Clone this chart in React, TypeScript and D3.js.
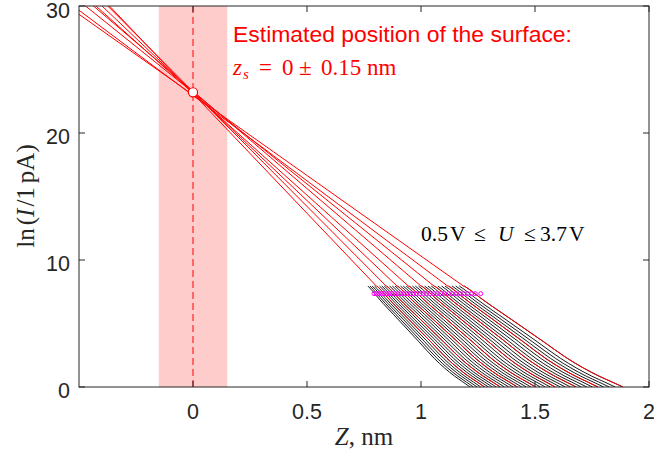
import React from "react";
import * as d3 from "d3";

// ---- data ----
const xTicks = [0, 0.5, 1, 1.5, 2];
const yTicks = [0, 10, 20, 30];
const xTickLabels = ["0", "0.5", "1", "1.5", "2"];
const yTickLabels = ["0", "10", "20", "30"];

const voltages = [
  0.5, 0.6, 0.7, 0.8, 0.9, 1.0, 1.1, 1.2, 1.3, 1.4, 1.5, 1.6, 1.7, 1.8, 1.9, 2.0,
  2.1, 2.2, 2.3, 2.4, 2.5, 2.6, 2.7, 2.8, 2.9, 3.0, 3.1, 3.2, 3.3, 3.4, 3.5, 3.6, 3.7,
];
// z where each I(z) curve starts (at the set-point current) and where it reaches ln I = 0
const zStart = [
  0.767, 0.776, 0.786, 0.796, 0.807, 0.818, 0.828, 0.839, 0.85, 0.862, 0.874, 0.886,
  0.898, 0.91, 0.922, 0.935, 0.948, 0.962, 0.975, 0.989, 1.003, 1.016, 1.03, 1.045,
  1.06, 1.074, 1.09, 1.105, 1.121, 1.136, 1.152, 1.168, 1.19,
];
const zEnd = [
  1.215, 1.23, 1.246, 1.262, 1.279, 1.296, 1.313, 1.33, 1.348, 1.366, 1.385, 1.404,
  1.423, 1.442, 1.462, 1.482, 1.503, 1.524, 1.545, 1.567, 1.589, 1.611, 1.633, 1.656,
  1.68, 1.703, 1.727, 1.752, 1.776, 1.801, 1.826, 1.852, 1.886,
];
// common shape of a curve: fraction of the way from zStart to zEnd vs ln I
const profileFrac = [0, 0.03, 0.1, 0.3, 0.5, 0.65, 0.75, 0.85, 0.93, 1];
const profileLnI = [7.95, 7.7, 7.03, 5.29, 3.56, 2.25, 1.5, 0.85, 0.4, 0];
// start points of the fits (magenta markers)
const markerZ = [
  0.794, 0.804, 0.815, 0.826, 0.838, 0.85, 0.861, 0.873, 0.886, 0.899, 0.912, 0.925,
  0.939, 0.952, 0.966, 0.98, 0.995, 1.01, 1.025, 1.04, 1.056, 1.071, 1.087, 1.103,
  1.12, 1.136, 1.153, 1.17, 1.187, 1.204, 1.221, 1.238, 1.262,
];
const markerLnI = 7.35;
// highlighted curves and their linear fits
const redIdx = [4, 8, 12, 16, 20, 24, 28, 32];
const fitIntercept = [23.1, 23.25, 23.2, 23.15, 23.3, 23.2, 22.95, 23.0];
const fitSlope = [18.84, 18.06, 17.04, 16.09, 15.35, 14.43, 13.43, 12.69];
const fitEndLnI = 7.9;
// estimated surface position
const zSurface = 0;
const zSurfaceErr = 0.15;
const lnISurface = 23.2;

const W = 654;
const H = 455;
const L = 79, R = 649, T = 6, B = 387;
const axisColor = "#262626";

export default function App() {
  const x = d3.scaleLinear().domain([-0.5, 2]).range([L, R]);
  const y = d3.scaleLinear().domain([0, 30]).range([B, T]);
  const line = d3
    .line<[number, number]>()
    .x((d) => x(d[0]))
    .y((d) => y(d[1]))
    .curve(d3.curveMonotoneX);

  const curvePts = (i: number): [number, number][] =>
    profileFrac.map((f, j) => [zStart[i] + f * (zEnd[i] - zStart[i]), profileLnI[j]]);

  const sans = "'Liberation Sans', Arial, Helvetica, sans-serif";
  const serif2 = "'Liberation Serif', 'Times New Roman', serif";

  return (
    <svg
      width={W}
      height={H}
      style={{ position: "absolute", left: 0, top: 0, background: "#fff" }}
    >
      <defs>
        <clipPath id="plot">
          <rect x={L} y={T} width={R - L} height={B - T} />
        </clipPath>
      </defs>
      <rect x={0} y={0} width={W} height={H} fill="#fff" />
      <g clipPath="url(#plot)">
        <rect
          x={x(zSurface - zSurfaceErr)}
          y={T}
          width={x(zSurface + zSurfaceErr) - x(zSurface - zSurfaceErr)}
          height={B - T}
          fill="#ffcccc"
        />
        <line
          x1={x(zSurface)}
          x2={x(zSurface)}
          y1={T}
          y2={B}
          stroke="#ff0000"
          strokeWidth={1}
          strokeDasharray="7 4"
        />
        {voltages.map((v, i) => (
          <path key={"c" + v} d={line(curvePts(i)) || ""} fill="none" stroke="#000" strokeWidth={0.9} />
        ))}
        {redIdx.map((i) => (
          <path key={"r" + i} d={line(curvePts(i)) || ""} fill="none" stroke="#ff0000" strokeWidth={1} />
        ))}
        {redIdx.map((i, k) => {
          const a = fitIntercept[k];
          const s = fitSlope[k];
          const z0 = -0.5;
          const z1 = (a - fitEndLnI) / s;
          return (
            <line
              key={"f" + i}
              x1={x(z0)}
              y1={y(a - s * z0)}
              x2={x(z1)}
              y2={y(a - s * z1)}
              stroke="#ff0000"
              strokeWidth={1}
            />
          );
        })}
        {markerZ.map((z, i) => (
          <circle key={"m" + i} cx={x(z)} cy={y(markerLnI)} r={2} fill="none" stroke="#ff00ff" strokeWidth={1} />
        ))}
        <circle cx={x(zSurface)} cy={y(lnISurface)} r={4.6} fill="#fff" stroke="#ff0000" strokeWidth={1.2} />
      </g>

      {/* axes box */}
      <rect x={L} y={T} width={R - L} height={B - T} fill="none" stroke={axisColor} strokeWidth={1} />
      {xTicks.map((t) => (
        <g key={"xt" + t}>
          <line x1={x(t)} x2={x(t)} y1={B} y2={B - 6} stroke={axisColor} strokeWidth={1} />
          <line x1={x(t)} x2={x(t)} y1={T} y2={T + 6} stroke={axisColor} strokeWidth={1} />
        </g>
      ))}
      {yTicks.map((t) => (
        <g key={"yt" + t}>
          <line x1={L} x2={L + 6} y1={y(t)} y2={y(t)} stroke={axisColor} strokeWidth={1} />
          <line x1={R} x2={R - 6} y1={y(t)} y2={y(t)} stroke={axisColor} strokeWidth={1} />
        </g>
      ))}
      {xTicks.map((t, i) => (
        <text key={"xl" + t} x={x(t)} y={419} textAnchor="middle" fontFamily={sans} fontSize={21.5} fill={axisColor}>
          {xTickLabels[i]}
        </text>
      ))}
      {yTicks.map((t, i) => (
        <text key={"yl" + t} x={70} y={Math.max(y(t) + 10.5, 17.5)} textAnchor="end" fontFamily={sans} fontSize={21.5} fill={axisColor}>
          {yTickLabels[i]}
        </text>
      ))}

      {/* axis labels */}
      <text x={(L + R) / 2} y={445} textAnchor="middle" fontFamily={serif2} fontSize={25} fill={axisColor}>
        <tspan fontStyle="italic">Z</tspan>
        <tspan>, nm</tspan>
      </text>
      <text
        transform={`translate(34, 196) rotate(-90)`}
        textAnchor="middle"
        fontFamily={serif2}
        fontSize={25}
        fill={axisColor}
      >
        <tspan>ln</tspan>
        <tspan dx={3}>(</tspan>
        <tspan fontStyle="italic">I</tspan>
        <tspan dx={2}>/1</tspan>
        <tspan dx={4}>pA)</tspan>
      </text>

      {/* annotations */}
      <text x={233} y={42} fontFamily={sans} fontSize={22.5} fill="#ff0000" textLength={339} lengthAdjust="spacingAndGlyphs">
        Estimated position of the surface:
      </text>
      <g fill="#ff0000" fontFamily={serif2} fontSize={23}>
        <text x={233} y={75} fontStyle="italic">z</text>
        <text x={243} y={79} fontStyle="italic" fontSize={15}>s</text>
        <text x={259} y={75}>=</text>
        <text x={282} y={75}>0</text>
        <text x={299} y={75}>±</text>
        <text x={321} y={75}>0.15</text>
        <text x={367} y={75}>nm</text>
      </g>
      <g fill="#000" fontFamily={serif2} fontSize={21.5}>
        <text x={421} y={241}>0.5</text>
        <text x={450} y={241}>V</text>
        <text x={474} y={241}>≤</text>
        <text x={498} y={241} fontStyle="italic">U</text>
        <text x={524} y={241}>≤</text>
        <text x={540} y={241}>3.7</text>
        <text x={569} y={241}>V</text>
      </g>
    </svg>
  );
}
